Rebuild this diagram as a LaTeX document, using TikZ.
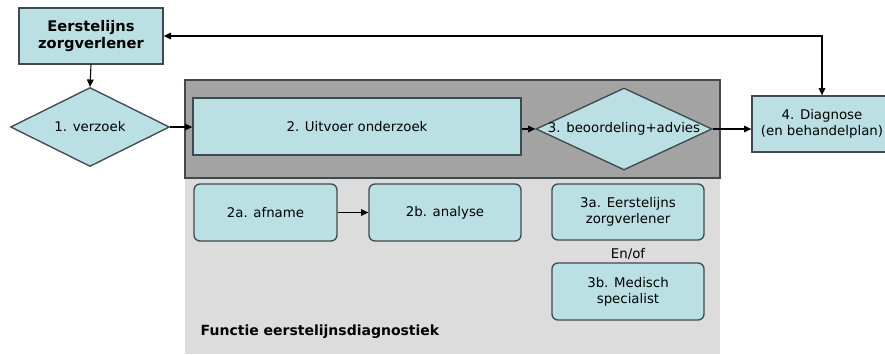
\documentclass[tikz,border=0pt]{standalone}
\usepackage{fontspec}
\setmainfont{DejaVu Sans}
\usepackage{xcolor}
\usetikzlibrary{arrows.meta,shapes.geometric,calc}
\definecolor{boxfill}{RGB}{186,224,228}
\definecolor{boxline}{RGB}{64,72,80}
\definecolor{darkband}{RGB}{163,163,163}
\definecolor{lightband}{RGB}{220,220,220}

\begin{document}
\begin{tikzpicture}[x=0.75pt, y=-0.75pt,
    every node/.style={font=\fontsize{10}{12}\selectfont, align=center},
    box/.style={draw=boxline, fill=boxfill, line width=1pt, inner sep=0pt},
    rbox/.style={box, rounded corners=4.5pt},
    dia/.style={draw=boxline, fill=boxfill, line width=1pt, shape=diamond, inner sep=0pt},
    pijl/.style={-{Triangle[length=5.5pt,width=5pt]}, line width=0.8pt},
    dubbelpijl/.style={{Triangle[length=5.5pt,width=5pt]}-{Triangle[length=5.5pt,width=5pt]}, line width=0.8pt}]
  \useasboundingbox (0,0) rectangle (885,354);
  % Achtergrond
  \fill[lightband] (185,178) rectangle (720,354);
  \filldraw[darkband, draw=boxline, line width=1pt] (185,80) rectangle (720,178);
  % Bovenste rij
  \node[box, minimum width=108pt, minimum height=42pt, font=\fontsize{11}{13}\selectfont\bfseries]
    (eerste) at (91,36) {Eerstelijns\\zorgverlener};
  \node[dia, minimum width=119.25pt, minimum height=59.25pt, label=center:{1. verzoek}]
    (verzoek) at (90,127) {};
  \node[box, minimum width=246pt, minimum height=42.75pt]
    (uitvoer) at (357,126.5) {2. Uitvoer onderzoek};
  \node[dia, minimum width=132pt, minimum height=61.5pt, label=center:{3. beoordeling+advies}]
    (beoordeling) at (624,129) {};
  \node[box, minimum width=105pt, minimum height=42pt]
    (diagnose) at (822,124) {4. Diagnose\\(en behandelplan)};
  % Onderste rij
  \node[rbox, minimum width=107.25pt, minimum height=42.75pt] (afname) at (265.5,212.5) {2a. afname};
  \node[rbox, minimum width=114pt, minimum height=42.75pt] (analyse) at (445,212.5) {2b. analyse};
  \node[rbox, minimum width=114pt, minimum height=42pt] (eerstea) at (628,212) {3a. Eerstelijns\\zorgverlener};
  \node (enof) at (628,254) {En/of};
  \node[rbox, minimum width=114pt, minimum height=42.75pt] (specialist) at (628,291.5) {3b. Medisch\\specialist};
  \node[anchor=west, font=\fontsize{10.5}{12}\selectfont\bfseries] (functie) at (196,332) {Functie eerstelijnsdiagnostiek};
  % Pijlen
  \draw[pijl] (eerste.south) -- (verzoek.north);
  \draw[pijl] (verzoek.east) -- (verzoek.east -| uitvoer.west);
  \draw[pijl] (beoordeling.west -| uitvoer.east) -- (beoordeling.west);
  \draw[pijl] (beoordeling.east) -- (beoordeling.east -| diagnose.west);
  \draw[pijl] (afname) -- (analyse);
  \draw[dubbelpijl] (eerste.east) -- (eerste.east -| diagnose.north) -- (diagnose.north);
\end{tikzpicture}
\end{document}
